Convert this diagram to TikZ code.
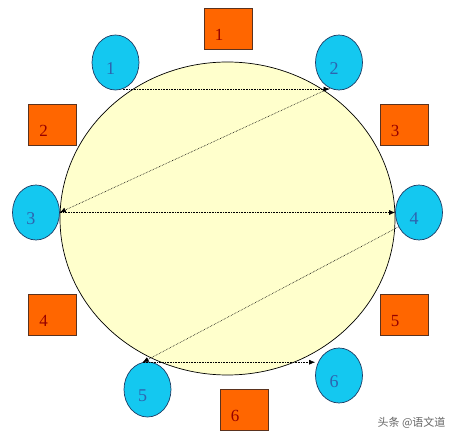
\documentclass[tikz,border=0pt]{standalone}
\usepackage{fontspec}
\setmainfont{Liberation Serif}
\newfontfamily\cjk{Noto Sans CJK SC}
\usetikzlibrary{shapes.geometric, arrows.meta}
\definecolor{tablefill}{RGB}{255,255,204}
\definecolor{guestfill}{RGB}{20,200,240}
\definecolor{guestline}{RGB}{30,60,100}
\definecolor{guesttext}{RGB}{45,100,175}
\definecolor{chairfill}{RGB}{255,102,0}
\definecolor{chairline}{RGB}{90,50,30}
\definecolor{chairtext}{RGB}{150,0,0}
\tikzset{
  guest/.style = {ellipse, draw=guestline, fill=guestfill, line width=0.7pt,
                  minimum width=47pt, minimum height=55pt, inner sep=0pt,
                  label={[xshift=-5pt, yshift=-6pt, text=guesttext,
                          font=\fontsize{18}{20}\selectfont]center:#1}},
  chair/.style = {rectangle, draw=chairline, fill=chairfill, line width=0.7pt,
                  minimum width=48pt, minimum height=41pt, inner sep=0pt,
                  label={[xshift=-9pt, yshift=-6pt, text=chairtext,
                          font=\fontsize{17}{20}\selectfont]center:#1}},
  pass/.style = {densely dotted, line width=0.6pt, -{Latex[length=6pt, width=5pt]}}
}

\begin{document}
\begin{tikzpicture}[x=1pt, y=-1pt]
	\useasboundingbox (0,0) rectangle (456,441);
	\fill[white] (0,0) rectangle (456,441);

	% Table
	\node[ellipse, draw=black, fill=tablefill, line width=0.7pt,
	      minimum width=335pt, minimum height=313pt] (table) at (227.5,218.5) {};

	% Chairs
	\node[chair=1] (s1) at (228,28.5) {};
	\node[chair=2] (s2) at (52.5,124.5) {};
	\node[chair=3] (s3) at (404,124.5) {};
	\node[chair=4] (s4) at (52.5,315) {};
	\node[chair=5] (s5) at (404,315) {};
	\node[chair=6] (s6) at (244,410) {};

	% Guests
	\node[guest=1] (g1) at (115.5,62.5) {};
	\node[guest=2] (g2) at (339,62.5) {};
	\node[guest=3] (g3) at (36,212.5) {};
	\node[guest=4] (g4) at (419,212.5) {};
	\node[guest=5] (g5) at (147.5,389.5) {};
	\node[guest=6] (g6) at (339,375.5) {};

	% Passes
	\draw[pass] (g1.-75) -- (g1.-75 -| g2.-110);
	\draw[pass] (g2.-110) -- (g3.east);
	\draw[pass] (g3.east) -- (g4.west);
	\draw[pass] (g4.215) -- (g5.100);
	\draw[pass] (g5.100) -- (g5.100 -| g6.west);

	% Watermark
	\node[text=black!60, font=\cjk\fontsize{11}{13}\selectfont, anchor=east] (mark) at (449,423) {头条 @语文道};
\end{tikzpicture}
\end{document}
